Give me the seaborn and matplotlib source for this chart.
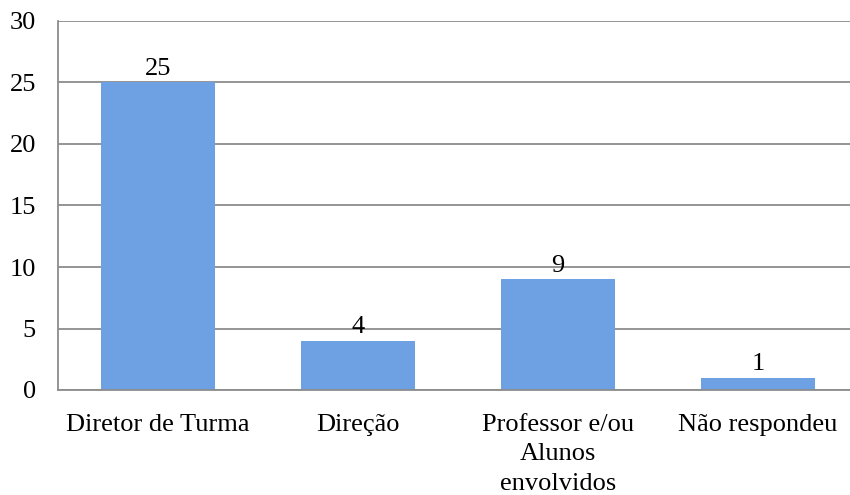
import matplotlib
matplotlib.use("Agg")
import matplotlib.pyplot as plt
import seaborn as sns
import pandas as pd

categories = ["Diretor de Turma", "Direção", "Professor e/ou\nAlunos\nenvolvidos", "Não respondeu"]
values = [25, 4, 9, 1]
yticks = [0, 5, 10, 15, 20, 25, 30]

sns.set_theme(style="white")
plt.rcParams["font.family"] = ["Liberation Serif", "DejaVu Serif"]

df = pd.DataFrame({"categoria": categories, "valor": values})

fig = plt.figure(figsize=(8.5, 4.95), dpi=100)
ax = fig.add_axes([58 / 850, 105 / 495, 800 / 850, 369 / 495])

sns.barplot(data=df, x="categoria", y="valor", color="#6DA1E4", width=0.57,
            saturation=1, linewidth=0, edgecolor="none", ax=ax, zorder=3)

ax.set_ylim(0, 30)
ax.set_xlim(-0.5, 3.5)
ax.set_yticks(yticks)
ax.set_yticklabels([str(t) for t in yticks])
ax.set_xlabel("")
ax.set_ylabel("")

ax.yaxis.grid(True, color="#8c8c8c", linewidth=1.3, zorder=0)
ax.set_axisbelow(True)
for side in ["top", "right"]:
    ax.spines[side].set_visible(False)
for side in ["left", "bottom"]:
    ax.spines[side].set_color("#8c8c8c")
    ax.spines[side].set_linewidth(1.3)
ax.spines["bottom"].set_zorder(4)

ax.tick_params(axis="y", length=0, pad=16, labelsize=19, colors="black")
ax.tick_params(axis="x", length=0, pad=17, labelsize=19, colors="black")
for lbl in ax.get_xticklabels():
    lbl.set_linespacing(1.45)

for i, v in enumerate(values):
    ax.text(i, v + 0.2, str(v), ha="center", va="bottom", fontsize=19, color="black")

fig.savefig("out.png", dpi=100)
